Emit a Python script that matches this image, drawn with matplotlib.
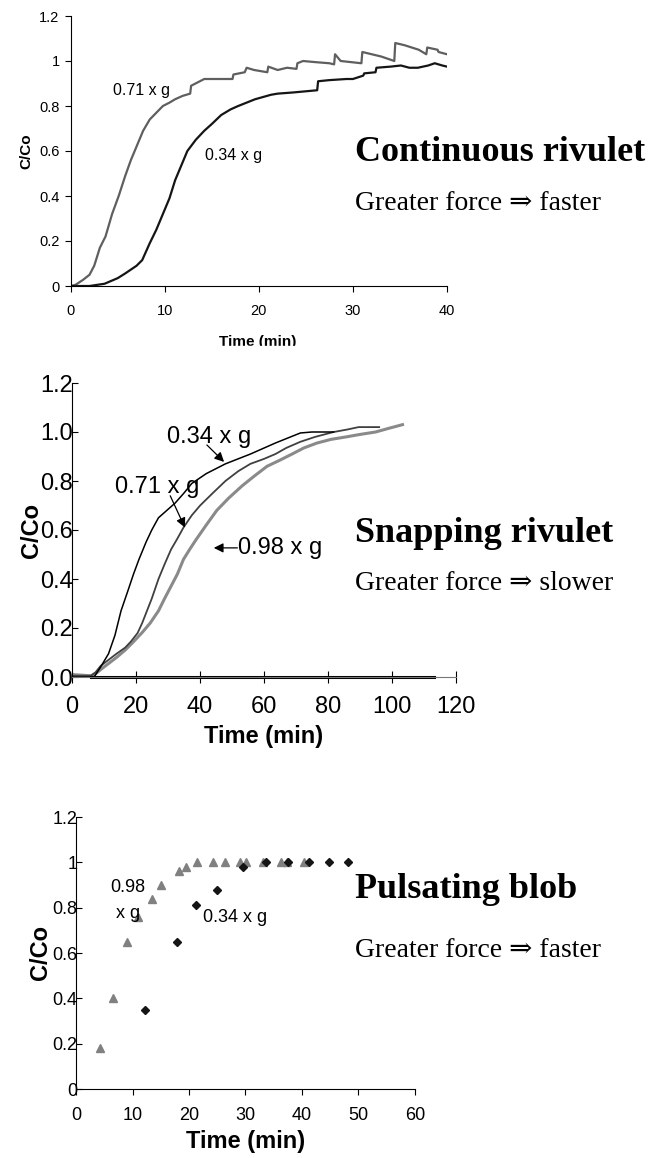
import matplotlib.pyplot as plt
from matplotlib.patches import Rectangle

# ---- panel 1: continuous rivulet ----
t1_071 = [0, 0.5, 1.3, 2, 2.5, 3.1, 3.7, 4.4, 5.1, 5.8, 6.4, 7.1, 7.7, 8.4, 9.1, 9.8,
          10.5, 11.1, 11.9, 12.7, 12.8, 13.5, 14.2, 15, 16, 17.2, 17.3, 18.5, 18.7, 19.5,
          20.9, 21.0, 22, 23, 24, 24.1, 24.7, 26, 27.5, 28, 28.1, 28.7, 30.9, 31.0, 33,
          34.4, 34.5, 35.5, 37, 37.8, 37.9, 39, 39.1, 40]
c1_071 = [0, 0.005, 0.027, 0.05, 0.09, 0.17, 0.22, 0.32, 0.40, 0.49, 0.56, 0.63, 0.69,
          0.74, 0.77, 0.80, 0.815, 0.83, 0.845, 0.855, 0.89, 0.905, 0.92, 0.92, 0.92, 0.92,
          0.94, 0.95, 0.97, 0.96, 0.95, 0.975, 0.96, 0.97, 0.965, 0.99, 1.0, 0.995, 0.99,
          0.985, 1.03, 1.0, 0.99, 1.04, 1.02, 1.0, 1.08, 1.07, 1.05, 1.03, 1.06, 1.05, 1.04,
          1.03]
t1_034 = [0, 2, 3.6, 5, 5.8, 7, 7.6, 8.4, 9.1, 9.8, 10.5, 11.1, 11.8, 12.4, 13.3, 14.2,
          15, 16, 17, 17.8, 19.6, 21.3, 22.0, 23.6, 26.2, 26.3, 27.5, 29.3, 30, 31.1, 31.2,
          32.4, 32.5, 34, 35.1, 36, 36.9, 38, 38.7, 39.5, 40]
c1_034 = [0, 0, 0.01, 0.035, 0.056, 0.09, 0.115, 0.19, 0.25, 0.32, 0.39, 0.47, 0.54, 0.60,
          0.65, 0.69, 0.72, 0.76, 0.785, 0.80, 0.83, 0.85, 0.855, 0.86, 0.87, 0.91, 0.915,
          0.92, 0.92, 0.935, 0.945, 0.95, 0.97, 0.975, 0.98, 0.97, 0.97, 0.98, 0.99, 0.98,
          0.975]

# ---- panel 2: snapping rivulet ----
t2_034 = [0, 5, 7, 9, 11.5, 13.5, 15.4, 17.5, 19.3, 21, 23.2, 25, 27.1, 29.7, 32.3, 35,
          37.5, 42, 48, 55.8, 63.6, 71.4, 75, 81.8]
c2_034 = [0, 0, 0.0, 0.04, 0.095, 0.17, 0.27, 0.35, 0.42, 0.48, 0.55, 0.60, 0.65, 0.68,
          0.71, 0.75, 0.79, 0.83, 0.87, 0.91, 0.955, 0.996, 1.0, 1.0]
t2_071 = [0, 6, 7.5, 9, 11.5, 14, 16.7, 18.5, 20.6, 22, 23.2, 25, 27.1, 29, 31, 33, 34.9,
          37.5, 40.1, 44, 48, 52, 55.8, 60, 63.6, 67, 71.4, 76, 81.8, 86, 89.6, 94.9, 96]
c2_071 = [0.005, 0.005, 0.02, 0.045, 0.07, 0.095, 0.12, 0.145, 0.18, 0.22, 0.26, 0.32,
          0.40, 0.46, 0.52, 0.565, 0.61, 0.66, 0.70, 0.75, 0.80, 0.84, 0.87, 0.89, 0.91,
          0.935, 0.96, 0.98, 1.0, 1.01, 1.02, 1.02, 1.02]
t2_098 = [0, 6, 7.6, 9.5, 11.5, 14, 16.7, 19, 21.9, 24.5, 27.1, 29, 31, 33, 34.9, 36.8,
          38.8, 42, 45.3, 49, 53.2, 57, 61, 65, 68.8, 72.5, 76.6, 81, 85.7, 90, 94.9, 99,
          103.3]
c2_098 = [0.01, 0.005, 0.015, 0.035, 0.055, 0.08, 0.11, 0.14, 0.18, 0.22, 0.27, 0.32,
          0.37, 0.42, 0.48, 0.52, 0.56, 0.62, 0.68, 0.73, 0.78, 0.82, 0.86, 0.885, 0.91,
          0.935, 0.955, 0.97, 0.98, 0.99, 1.0, 1.015, 1.03]
t2_base = [6, 113]
c2_base = [0, 0]

# ---- panel 3: pulsating blob ----
t3_098 = [4.3, 6.6, 9.1, 11.0, 13.4, 15.1, 18.2, 19.4, 21.4, 24.3, 26.3, 29.0, 30.1,
          33.1, 36.3, 37.4, 40.4]
c3_098 = [0.18, 0.40, 0.65, 0.76, 0.84, 0.90, 0.96, 0.98, 1.0, 1.0, 1.0, 1.0, 1.0, 1.0,
          1.0, 1.0, 1.0]
t3_034 = [12.3, 17.9, 21.2, 24.9, 29.5, 33.7, 37.5, 41.2, 44.7, 48.2]
c3_034 = [0.35, 0.65, 0.81, 0.88, 0.98, 1.0, 1.0, 1.0, 1.0, 1.0]

yt = [0, 0.2, 0.4, 0.6, 0.8, 1.0, 1.2]
yl_general = ["0", "0.2", "0.4", "0.6", "0.8", "1", "1.2"]
yl_fixed = ["0.0", "0.2", "0.4", "0.6", "0.8", "1.0", "1.2"]

W, H = 655, 1158
sans = "Liberation Sans"
serif = ["Liberation Serif", "DejaVu Serif"]
plt.rcParams["font.family"] = sans

fig = plt.figure(figsize=(W / 100, H / 100), dpi=100)


def fx(px):
    return px / W


def fy(py):
    return 1 - py / H


def make_axes(l, r, t, b):
    ax = fig.add_axes([fx(l), fy(b), fx(r) - fx(l), (b - t) / H])
    ax.spines["top"].set_visible(False)
    ax.spines["right"].set_visible(False)
    return ax


# panel 1
ax1 = make_axes(70.7, 447, 16, 286)
ax1.plot(t1_071, c1_071, color="#5f5f5f", lw=1.6)
ax1.plot(t1_034, c1_034, color="#151515", lw=1.6)
ax1.set_xlim(0, 40)
ax1.set_ylim(0, 1.2)
ax1.set_xticks([0, 10, 20, 30, 40])
ax1.set_yticks(yt)
ax1.set_yticklabels(yl_general)
ax1.tick_params(axis="x", labelsize=10.5, length=4, width=0.8, pad=9)
ax1.tick_params(axis="y", labelsize=10.5, length=4, width=0.8, pad=4)
ax1.set_ylabel("C/Co", fontsize=11, fontweight="bold", labelpad=4)
ax1.text(4.5, 0.871, "0.71 x g", fontsize=11.5, va="center")
ax1.text(14.3, 0.582, "0.34 x g", fontsize=11.5, va="center")
fig.text(fx(258), fy(342), "Time (min)", fontsize=11, fontweight="bold",
         ha="center", va="center")
fig.patches.append(Rectangle((fx(200), fy(360)), fx(120), 14 / H,
                             transform=fig.transFigure, color="white", zorder=5))

# panel 2
ax2 = make_axes(71.7, 456, 383, 677)
ax2.plot(t2_098, c2_098, color="#8a8a8a", lw=2.2)
ax2.plot(t2_071, c2_071, color="#404040", lw=1.3)
ax2.plot(t2_034, c2_034, color="black", lw=1.1)
ax2.plot(t2_base, c2_base, color="black", lw=2.2, clip_on=False)
ax2.spines["bottom"].set_color("#777777")
ax2.set_xlim(0, 120)
ax2.set_ylim(0, 1.2)
ax2.set_xticks([0, 20, 40, 60, 80, 100, 120])
ax2.set_yticks(yt)
ax2.set_yticklabels(yl_fixed)
ax2.tick_params(axis="x", labelsize=17, direction="inout", length=8, width=0.8, pad=10)
ax2.tick_params(axis="y", labelsize=17, direction="in", length=4, width=0.8, pad=-1)
ax2.set_xlabel("Time (min)", fontsize=17, fontweight="bold", labelpad=5)
ax2.set_ylabel("C/Co", fontsize=17, fontweight="bold", labelpad=-2)
ax2.text(29.7, 0.98, "0.34 x g", fontsize=17, va="center")
ax2.text(13.5, 0.776, "0.71 x g", fontsize=17, va="center")
ax2.text(52.0, 0.527, "0.98 x g", fontsize=17, va="center")
arrow = dict(arrowstyle="-|>", color="black", lw=0.9, mutation_scale=14)
ax2.annotate("", xy=(48.2, 0.87), xytext=(41.6, 0.955), arrowprops=arrow)
ax2.annotate("", xy=(35.7, 0.60), xytext=(30.4, 0.75), arrowprops=arrow)
ax2.annotate("", xy=(43.5, 0.527), xytext=(52.6, 0.527), arrowprops=arrow)

# panel 3
ax3 = make_axes(76, 415, 817, 1089)
ax3.plot(t3_098, c3_098, ls="none", marker="^", ms=6, color="#808080")
ax3.plot(t3_034, c3_034, ls="none", marker="D", ms=4.5, color="#151515")
ax3.set_xlim(0, 60)
ax3.set_ylim(0, 1.2)
ax3.set_xticks([0, 10, 20, 30, 40, 50, 60])
ax3.set_yticks(yt)
ax3.set_yticklabels(yl_general)
ax3.tick_params(axis="x", labelsize=13, length=4, width=0.8, pad=9)
ax3.tick_params(axis="y", labelsize=13, direction="in", length=4, width=0.8, pad=-1)
ax3.set_xlabel("Time (min)", fontsize=17, fontweight="bold", labelpad=4)
ax3.set_ylabel("C/Co", fontsize=17, fontweight="bold", labelpad=0)
ax3.text(9.2, 0.891, "0.98", fontsize=13, ha="center", va="center")
ax3.text(9.2, 0.776, "x g", fontsize=13, ha="center", va="center")
ax3.text(22.4, 0.756, "0.34 x g", fontsize=13, va="center")

# titles on the right
titles = [("Continuous rivulet", 161, "Greater force \u21d2 faster", 210),
          ("Snapping rivulet", 542, "Greater force \u21d2 slower", 590),
          ("Pulsating blob", 898, "Greater force \u21d2 faster", 957)]
for big, yb, small, ys in titles:
    fig.text(fx(355), fy(yb), big, family=serif, fontsize=26, fontweight="bold",
             va="baseline")
    fig.text(fx(355), fy(ys), small, family=serif, fontsize=20, va="baseline")

plt.savefig("out.png", dpi=100)
